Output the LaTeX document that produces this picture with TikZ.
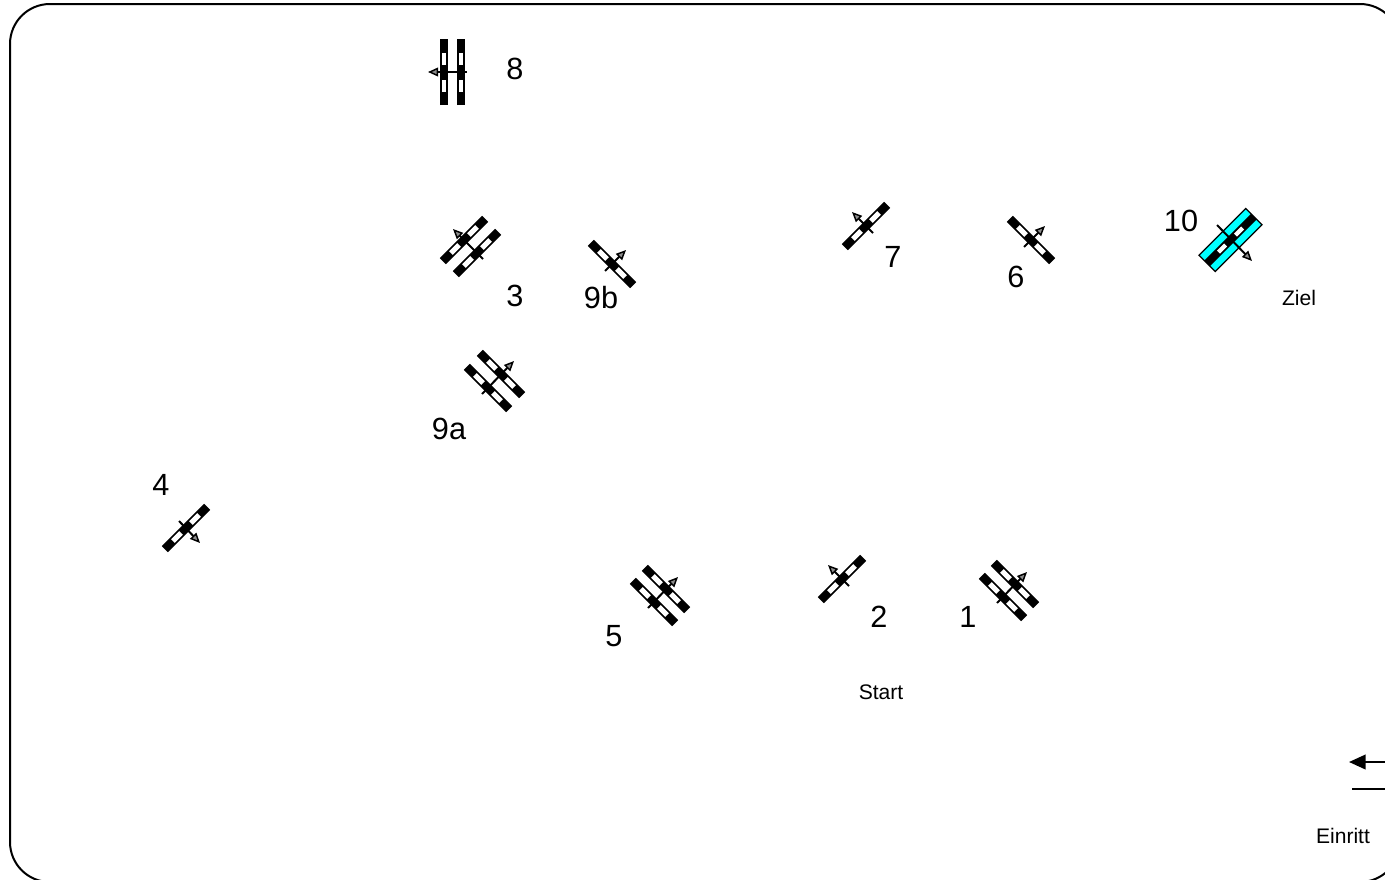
\documentclass[tikz,border=0pt]{standalone}
\usepackage{fontspec}
\setmainfont{Liberation Sans}
\usetikzlibrary{arrows.meta}
\definecolor{gatecyan}{RGB}{0,255,255}
\tikzset{
  x=0.75pt,y=-0.75pt,
  biglabel/.style={font=\fontsize{23}{26}\selectfont,inner sep=0pt,anchor=center},
  smalllabel/.style={font=\fontsize{15.8}{18}\selectfont,inner sep=0pt,anchor=center},
  gatearrow/.style={line width=1.5pt,-{Triangle[length=7.5pt,width=6.5pt,fill=black!45,line width=1.1pt]}},
  barblack/.style={line width=6pt,black,line cap=butt},
  barwhite/.style={line width=3.4pt,white,line cap=butt},
  pics/gatebar/.style={code={
    \draw[barblack] (-33,0) -- (33,0);
    \draw[barwhite] (-19.5,0) -- (-7.5,0);
    \draw[barwhite] (7.5,0) -- (19.5,0);
  }},
  pics/diagbar/.style={code={
    \draw[barblack,line width=6.4pt] (-30,0) -- (30,0);
    \draw[barwhite,line width=3.8pt] (-18.5,0) -- (-7,0);
    \draw[barwhite,line width=3.8pt] (7,0) -- (18.5,0);
  }},
  pics/goalbar/.style={code={
    \draw[black,fill=gatecyan,line width=0.9pt] (-33,-11.5) rectangle (33,11.5);
    \draw[barblack] (-33,0) -- (33,0);
    \draw[barwhite,line width=3.2pt] (-17,0) -- (-7,0);
    \draw[barwhite,line width=3.2pt] (7,0) -- (17,0);
  }},
}
\begin{document}
\begin{tikzpicture}
\useasboundingbox (0,0) rectangle (1385,879);
\clip (0,0) rectangle (1385,879);
\draw[line width=1.5pt,black,rounded corners=30pt] (10,4) rectangle (1400,882);

% 8
\pic at (444,72) [rotate=90] {gatebar};
\pic at (461,72) [rotate=90] {gatebar};
\coordinate (t8) at (467,72); \coordinate (h8) at (428,72);
\draw[gatearrow] (t8) -- (h8);
% 3
\pic at (464,240) [rotate=45] {diagbar};
\pic at (477,253) [rotate=45] {diagbar};
\coordinate (t3) at (483,259); \coordinate (h3) at (453,229);
\draw[gatearrow] (t3) -- (h3);
% 9a
\pic at (488,388) [rotate=-45] {diagbar};
\pic at (501,374) [rotate=-45] {diagbar};
\coordinate (t9a) at (482,394); \coordinate (h9a) at (514,361);
\draw[gatearrow] (t9a) -- (h9a);
% 9b
\pic at (612,264) [rotate=-45] {diagbar};
\coordinate (t9b) at (605,271); \coordinate (h9b) at (626,250);
\draw[gatearrow] (t9b) -- (h9b);
% 7
\pic at (866,226) [rotate=45] {diagbar};
\coordinate (t7) at (873,233); \coordinate (h7) at (852,212);
\draw[gatearrow] (t7) -- (h7);
% 6
\pic at (1031,240) [rotate=-45] {diagbar};
\coordinate (t6) at (1024,247); \coordinate (h6) at (1045,226);
\draw[gatearrow] (t6) -- (h6);
% 10
\pic at (1230.5,240) [rotate=45] {goalbar};
\coordinate (t10) at (1217,225); \coordinate (h10) at (1252,261);
\draw[gatearrow] (t10) -- (h10);
% 4
\pic at (186,528) [rotate=45] {diagbar};
\coordinate (t4) at (179,521); \coordinate (h4) at (200,543);
\draw[gatearrow] (t4) -- (h4);
% 5
\pic at (654,602) [rotate=-45] {diagbar};
\pic at (666,589) [rotate=-45] {diagbar};
\coordinate (t5) at (648,608); \coordinate (h5) at (678,577);
\draw[gatearrow] (t5) -- (h5);
% 2
\pic at (842,579) [rotate=45] {diagbar};
\coordinate (t2) at (849,586); \coordinate (h2) at (828,565);
\draw[gatearrow] (t2) -- (h2);
% 1
\pic at (1003,597) [rotate=-45] {diagbar};
\pic at (1015,584) [rotate=-45] {diagbar};
\coordinate (t1) at (997,603); \coordinate (h1) at (1027,572);
\draw[gatearrow] (t1) -- (h1);

% entry arrow
\coordinate (e1) at (1385,762); \coordinate (e2) at (1349,762);
\draw[line width=1.5pt,-{Triangle[length=12.5pt,width=11pt]}] (e1) -- (e2);
\coordinate (e3) at (1385,789); \coordinate (e4) at (1352,789);
\draw[line width=1.5pt] (e3) -- (e4);

\node[biglabel] (l8) at (515,69) {8};
\node[biglabel] (l3) at (515,296) {3};
\node[biglabel] (l9b) at (601,298) {9b};
\node[biglabel] (l9a) at (449,429) {9a};
\node[biglabel] (l7) at (893,257) {7};
\node[biglabel] (l6) at (1016,277) {6};
\node[biglabel] (l10) at (1181,221) {10};
\node[biglabel] (l4) at (161,485) {4};
\node[biglabel] (l5) at (614,636) {5};
\node[biglabel] (l2) at (879,617) {2};
\node[biglabel] (l1) at (968,617) {1};
\node[smalllabel] (lz) at (1299,298) {Ziel};
\node[smalllabel] (ls) at (881,692) {Start};
\node[smalllabel] (le) at (1343,836) {Einritt};
\end{tikzpicture}
\end{document}
